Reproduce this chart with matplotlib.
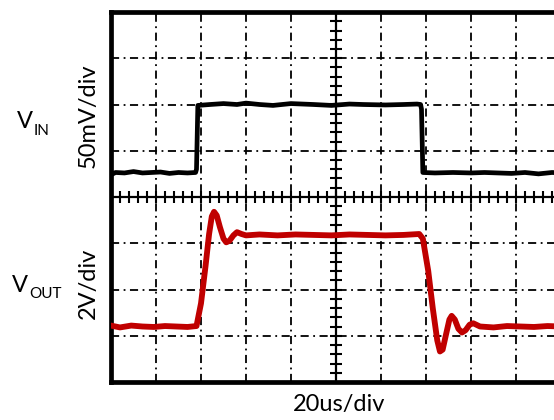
import numpy as np
import matplotlib
matplotlib.use("Agg")
import matplotlib.pyplot as plt

plt.rcParams['font.family'] = ['Lato', 'DejaVu Sans']

# scope traces, in screen divisions (10 x 8 grid, bottom-left = 0,0)
vin_t = [0.0, 0.1, 0.3, 0.5, 0.7, 0.9, 1.1, 1.3, 1.5, 1.7, 1.88,
         1.9, 1.93, 2.2, 2.5, 2.8, 3.0, 3.3, 3.6, 4.0, 4.5, 4.9, 5.3,
         5.6, 6.1, 6.5, 6.8, 6.88, 6.9, 6.93, 7.2, 7.6, 8.0, 8.3,
         8.6, 8.9, 9.2, 9.5, 9.8, 10.0]
vin_v = [4.48, 4.53, 4.52, 4.55, 4.52, 4.53, 4.54, 4.51, 4.53, 4.52, 4.53,
         4.6, 5.98, 6.0, 6.02, 6.0, 6.03, 6.0, 5.98, 6.02, 6.0, 5.98, 6.01,
         6.0, 5.99, 6.0, 6.01, 6.0, 5.9, 4.53, 4.52, 4.53, 4.52, 4.53,
         4.52, 4.51, 4.53, 4.5, 4.53, 4.52]

vout_t = [0.0, 0.2, 0.45, 0.7, 0.95, 1.2, 1.45, 1.7, 1.9,
          2.0, 2.1, 2.18, 2.24, 2.29, 2.35, 2.42, 2.5, 2.56, 2.63,
          2.72, 2.8, 2.9, 3.0, 3.3, 3.7, 4.1, 4.5, 4.9, 5.3, 5.7,
          6.1, 6.5, 6.85, 6.93, 7.05, 7.15, 7.25, 7.31, 7.37, 7.45,
          7.52, 7.57, 7.64, 7.72, 7.8, 7.88, 7.97, 8.05, 8.2, 8.5,
          8.8, 9.1, 9.4, 9.7, 10.0]
vout_v = [1.22, 1.18, 1.22, 1.2, 1.19, 1.21, 1.2, 1.19, 1.21,
          1.7, 2.5, 3.2, 3.58, 3.68, 3.6, 3.35, 3.1, 3.02, 3.05,
          3.17, 3.24, 3.2, 3.17, 3.19, 3.17, 3.19, 3.18, 3.17, 3.19, 3.18,
          3.17, 3.18, 3.2, 3.1, 2.4, 1.6, 0.9, 0.66, 0.7, 1.05,
          1.35, 1.43, 1.35, 1.15, 1.07, 1.12, 1.24, 1.27, 1.2, 1.18,
          1.21, 1.2, 1.19, 1.21, 1.2]

W, H = 554, 420
fig = plt.figure(figsize=(W / 100, H / 100), dpi=100)
# right edge of the screen falls just outside the picture
ax = fig.add_axes([111 / W, 38 / H, 450 / W, 370 / H])
ax.set_xlim(0, 10)
ax.set_ylim(0, 8)
ax.set_xticks([])
ax.set_yticks([])
for s in ax.spines.values():
    s.set_linewidth(3.4)
    s.set_color('black')

# dash-dot graticule
grid_ls = (0, (4.5, 2.5, 1, 2.5))
for gx in range(1, 10):
    if gx != 5:
        ax.axvline(gx, color='black', lw=1.3, ls=grid_ls, zorder=1)
for gy in range(1, 8):
    if gy != 4:
        ax.axhline(gy, color='black', lw=1.3, ls=grid_ls, zorder=1)

# centre cross with minor ticks
ax.axvline(5, color='black', lw=1.6, zorder=1)
ax.axhline(4, color='black', lw=1.6, zorder=1)
minor = np.arange(0.2, 10, 0.2)
ax.plot(minor, np.full(len(minor), 4.0), ls='none', marker='|', ms=9,
        mew=1.5, color='black', zorder=1)
minor_y = np.arange(0.2, 8, 0.2)
ax.plot(np.full(len(minor_y), 5.0), minor_y, ls='none', marker='_', ms=9,
        mew=1.5, color='black', zorder=1)

ax.plot(vin_t, vin_v, color='black', lw=3.4, solid_joinstyle='round', zorder=3)
ax.plot(vout_t, vout_v, color='#c00000', lw=4.2, solid_joinstyle='round', zorder=3)

# labels (pixel positions from the reference)
def px(x, y):
    return x / W, 1 - y / H

fig.text(*px(17, 121), 'V', fontsize=17, ha='left', va='center')
fig.text(*px(34, 131), 'IN', fontsize=11, ha='left', va='center')
fig.text(*px(88, 116), '50mV/div', fontsize=17, rotation=90, ha='center', va='center')
fig.text(*px(12, 285), 'V', fontsize=17, ha='left', va='center')
fig.text(*px(29, 294), 'OUT', fontsize=11, ha='left', va='center')
fig.text(*px(88, 283), '2V/div', fontsize=17, rotation=90, ha='center', va='center')
fig.text(*px(339, 405), '20us/div', fontsize=17, ha='center', va='center')

fig.savefig('out.png', dpi=100)
